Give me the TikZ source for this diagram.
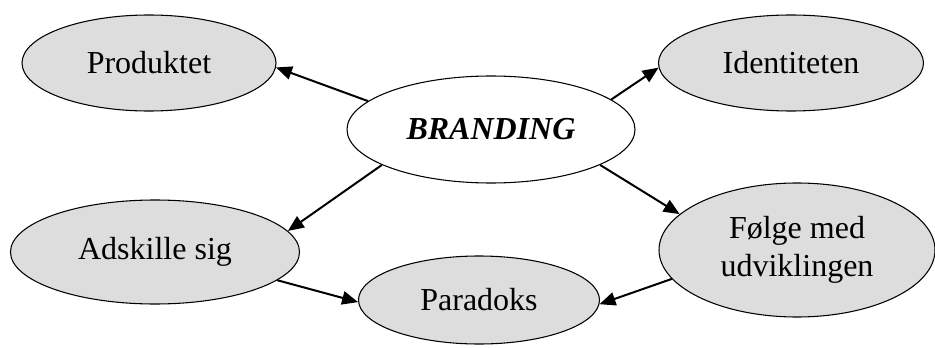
\documentclass[tikz,border=0pt]{standalone}
\usepackage{fontspec}
\setmainfont{Liberation Serif}
\usetikzlibrary{shapes.geometric,arrows.meta}
\definecolor{bubblegray}{RGB}{221,221,221}

\begin{document}
\begin{tikzpicture}[x=0.75pt,y=0.75pt,
    bubble/.style={
           ellipse,
           draw=black,
           line width=0.8pt,
           fill=bubblegray,
           inner sep=0pt,
           align=center,
         font=\fontsize{24}{28}\selectfont},
    brand_arrow/.style={
           -{Triangle[length=12pt,width=10pt]},
           line width=1.5pt,
         black}]

  \useasboundingbox (0,0) rectangle (935,347);

  \path (149,284) node(prod) [bubble,minimum width=190.5pt,minimum height=72pt] {Produktet}
  (491,217.5) node(brand) [bubble,fill=white,minimum width=216pt,minimum height=80.25pt] {\textbf{\textit{BRANDING}}}
  (791,284) node(ident) [bubble,minimum width=198.75pt,minimum height=72pt] {Identiteten}
  (155,95) node(adsk) [bubble,minimum width=216.75pt,minimum height=78pt] {Adskille sig}
  (479,47) node(parad) [bubble,minimum width=180.75pt,minimum height=66pt] {Paradoks}
  (797,97) node(folge) [bubble,minimum width=207pt,minimum height=100.5pt] {Følge med\\udviklingen};

  \path (brand.167) edge[brand_arrow] (prod.-2)
  (brand.14) edge[brand_arrow] (ident.182)
  (brand.198) edge[brand_arrow] (adsk.9)
  (brand.-18) edge[brand_arrow] (folge.163)
  (adsk.-13) edge[brand_arrow] (parad.181)
  (folge.193) edge[brand_arrow] (parad.-2)
  ;

\end{tikzpicture}
\end{document}
